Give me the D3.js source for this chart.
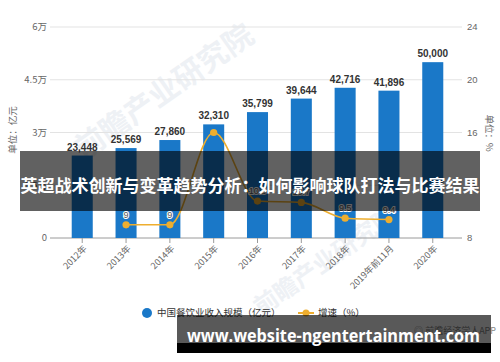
<!DOCTYPE html>
<html><head><meta charset="utf-8">
<script src="https://cdn.jsdelivr.net/npm/d3@7/dist/d3.min.js"></script>
<style>
body{margin:0;background:#fff}
svg{display:block;font-family:"Liberation Sans","Noto Sans CJK SC",sans-serif}
</style>
</head><body><svg id="c" width="500" height="362"></svg>
<script>
const categories = ["2012年","2013年","2014年","2015年","2016年","2017年","2018年","2019年前11月","2020年"];
const revenue = [23448,25569,27860,32310,35799,39644,42716,41896,50000];
const growth = [null,9,9,16,10.8,10.7,9.5,9.4,null];
const growthLabelShown = [false,true,true,false,true,true,true,true,false];
const leftTicks = [0,15000,30000,45000,60000];
const leftTickLabels = ["0","1.5万","3万","4.5万","6万"];
const rightTicks = [8,12,16,20,24];
const rightTickLabels = ["8","12","16","20","24"];
const legendLabels = ["中国餐饮业收入规模（亿元）","增速（%）"];
const leftAxisName = "单位：亿元";
const rightAxisName = "单位：%";
const title = "英超战术创新与变革趋势分析：如何影响球队打法与比赛结果";
const footer = "www.website-ngentertainment.com";
const source = "◎ 前瞻经济学人APP";

const BLUE = "#1a78c8", ORANGE = "#eeae2f";
const svg = d3.select("#c");
const fmt = d3.format(",");

const x = d3.scaleBand().domain(categories).range([52,463]).paddingInner(0.52).paddingOuter(0.45);
const yL = d3.scaleLinear().domain([0,60000]).range([238,27]);
const yR = d3.scaleLinear().domain([8,24]).range([238,27]);

// faint watermarks
const wm = svg.append("g").attr("fill","#eef1f5").attr("font-family","Noto Sans CJK SC").attr("font-weight","bold");
[[170,100,30],[330,268,24]].forEach(([wx,wy,fs])=>{
  wm.append("text").attr("transform",`translate(${wx},${wy}) rotate(-35)`).attr("text-anchor","middle")
    .attr("font-size",fs).text("前瞻产业研究院");
});

// gridlines
svg.append("g").selectAll("line").data(leftTicks).join("line")
  .attr("x1",50).attr("x2",462).attr("y1",d=>yL(d)).attr("y2",d=>yL(d))
  .attr("stroke",d=>d===0?"#9a9a9a":"#e3e3e3").attr("stroke-width",1);

// left tick labels
svg.append("g").selectAll("text").data(leftTicks).join("text")
  .attr("x",47).attr("y",d=>yL(d)).attr("dy","0.35em").attr("text-anchor","end")
  .attr("font-size",9.5).attr("fill","#666").attr("font-family","Noto Sans CJK SC")
  .text((d,i)=>leftTickLabels[i]);
// right tick labels
svg.append("g").selectAll("text").data(rightTicks).join("text")
  .attr("x",467).attr("y",d=>yR(d)).attr("dy","0.35em").attr("text-anchor","start")
  .attr("font-size",9.5).attr("fill","#666")
  .text((d,i)=>rightTickLabels[i]);

// axis names
svg.append("text").attr("transform","translate(16,130) rotate(-90)").attr("text-anchor","middle")
  .attr("font-size",9.5).attr("fill","#666").attr("font-family","Noto Sans CJK SC").text(leftAxisName);
svg.append("text").attr("transform","translate(486,133) rotate(90)").attr("text-anchor","middle")
  .attr("font-size",9.5).attr("fill","#666").attr("font-family","Noto Sans CJK SC").text(rightAxisName);

// bottom ticks
svg.append("g").selectAll("line").data(categories).join("line")
  .attr("x1",d=>x(d)+x.bandwidth()/2).attr("x2",d=>x(d)+x.bandwidth()/2)
  .attr("y1",238).attr("y2",243).attr("stroke","#9a9a9a");
svg.append("g").selectAll("text").data(categories).join("text")
  .attr("transform",d=>`translate(${x(d)+x.bandwidth()/2+3},${247}) rotate(-45)`)
  .attr("text-anchor","end").attr("dy","0.35em").attr("font-size",9).attr("fill","#666")
  .attr("font-family","Noto Sans CJK SC").text(d=>d);

// bars
svg.append("g").selectAll("rect").data(revenue).join("rect")
  .attr("x",(d,i)=>x(categories[i])).attr("width",x.bandwidth())
  .attr("y",d=>yL(d)).attr("height",d=>238-yL(d)).attr("fill",BLUE);
svg.append("g").selectAll("text").data(revenue).join("text")
  .attr("x",(d,i)=>x(categories[i])+x.bandwidth()/2).attr("y",d=>yL(d)-5)
  .attr("text-anchor","middle").attr("font-size",10).attr("font-weight","bold").attr("fill","#333")
  .text(d=>fmt(d));

// line
const pts = growth.map((g,i)=>({c:categories[i],g,i})).filter(p=>p.g!==null);
const line = d3.line().x(p=>x(p.c)+x.bandwidth()/2).y(p=>yR(p.g)).curve(d3.curveMonotoneX);
svg.append("path").attr("d",line(pts)).attr("fill","none").attr("stroke",ORANGE).attr("stroke-width",1.6);
svg.append("g").selectAll("circle").data(pts).join("circle")
  .attr("cx",p=>x(p.c)+x.bandwidth()/2).attr("cy",p=>yR(p.g)).attr("r",3.6).attr("fill",ORANGE);
svg.append("g").selectAll("text").data(pts.filter(p=>growthLabelShown[p.i])).join("text")
  .attr("x",p=>x(p.c)+x.bandwidth()/2).attr("y",p=>yR(p.g)-7)
  .attr("text-anchor","middle").attr("font-size",9).attr("fill","#555")
  .attr("stroke","#fff").attr("stroke-width",2).attr("paint-order","stroke")
  .text(p=>p.g);

// legend
const lg = svg.append("g").attr("font-family","Noto Sans CJK SC").attr("font-size",9.5).attr("fill","#333");
lg.append("circle").attr("cx",147).attr("cy",313).attr("r",5).attr("fill",BLUE);
lg.append("text").attr("x",157).attr("y",313).attr("dy","0.35em").text(legendLabels[0]);
lg.append("line").attr("x1",298).attr("x2",314).attr("y1",313).attr("y2",313).attr("stroke",ORANGE).attr("stroke-width",2);
lg.append("circle").attr("cx",306).attr("cy",313).attr("r",3.5).attr("fill",ORANGE);
lg.append("text").attr("x",318).attr("y",313).attr("dy","0.35em").text(legendLabels[1]);

// source
svg.append("text").attr("x",496).attr("y",334).attr("text-anchor","end").attr("font-size",9)
  .attr("fill","#888").attr("font-family","Noto Sans CJK SC").text(source);

// title banner
svg.append("rect").attr("x",20).attr("y",151).attr("width",460).attr("height",60).attr("fill","rgba(0,0,0,0.62)");
svg.append("text").attr("x",250).attr("y",186).attr("dy","0.35em").attr("text-anchor","middle")
  .attr("font-family","Noto Sans CJK SC").attr("font-weight","bold").attr("font-size",17).attr("fill","#fff")
  .text(title);

// footer banner
svg.append("rect").attr("x",177).attr("y",315).attr("width",314).attr("height",28).attr("fill","rgba(0,0,0,0.65)");
svg.append("rect").attr("x",177).attr("y",343).attr("width",314).attr("height",10).attr("fill","#000");
svg.append("text").attr("x",187).attr("y",342).attr("font-family","Open Sans").attr("font-weight","bold")
  .attr("font-size",18).attr("fill","#fff").attr("textLength",293).attr("lengthAdjust","spacingAndGlyphs").text(footer);
</script></body></html>
